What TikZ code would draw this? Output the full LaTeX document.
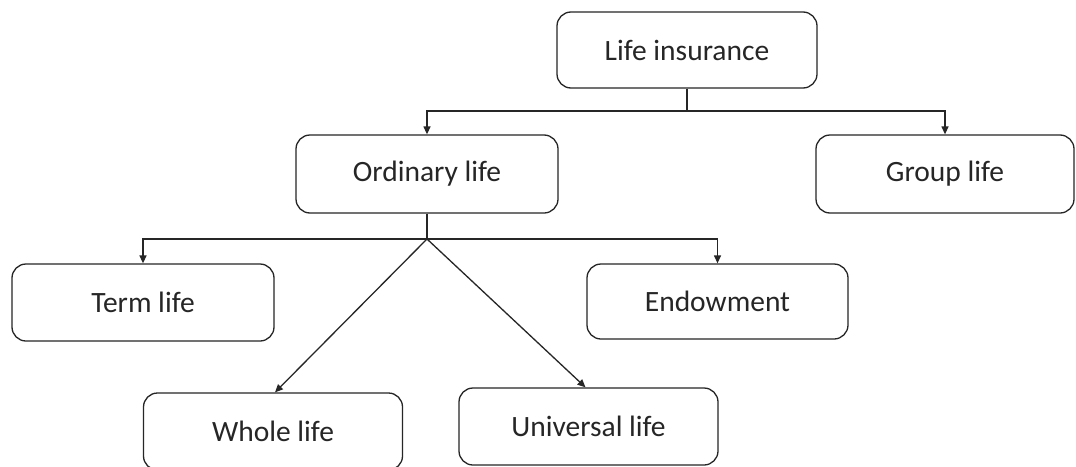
\documentclass[tikz,border=0pt]{standalone}
\usepackage{fontspec}
\setmainfont{Carlito}
\usetikzlibrary{arrows.meta}
\definecolor{ink}{HTML}{262626}
\begin{document}
\begin{tikzpicture}[x=1pt,y=-1pt,
  box/.style={draw=ink, line width=1.3pt, rounded corners=14pt, fill=white,
    minimum width=260pt, minimum height=76pt, text=ink, font=\fontsize{29.5}{34}\selectfont, inner sep=0pt},
  link/.style={draw=ink, line width=1.3pt},
  arrowlink/.style={link, -{Triangle[length=8pt,width=7pt]}}]
\useasboundingbox (0,0) rectangle (1076,466);
\fill[white] (0,0) rectangle (1076,466);

% tree boxes
\node[box] (life) at (687,50) {Life insurance};
\node[box, minimum width=262pt, minimum height=78pt] (ord) at (427,174) {Ordinary life};
\node[box, minimum width=258pt, minimum height=78pt] (group) at (945,174) {Group life};
\node[box, minimum width=262pt, minimum height=77pt] (term) at (143,302.5) {Term life};
\node[box, minimum width=261pt, minimum height=75pt] (endow) at (717.5,301.5) {Endowment};
\node[box, minimum width=259pt, minimum height=77pt] (whole) at (273,431.5) {Whole life};
\node[box, minimum width=259pt, minimum height=77pt] (univ) at (588.5,426.5) {Universal life};

% first level
\coordinate (top) at (687,111);
\draw[link] (life.south) -- (top);
\draw[arrowlink] (top) -| (ord.north);
\draw[arrowlink] (top) -| (group.north);

% second level
\coordinate (hub) at (427,239);
\draw[link] (ord.south) -- (hub);
\draw[arrowlink] (hub) -| (term.north);
\draw[arrowlink] (hub) -| (endow.north);
\draw[arrowlink] (hub) -- ([xshift=2pt]whole.north);
\draw[arrowlink] (hub) -- ([xshift=-3pt]univ.north);
\end{tikzpicture}
\end{document}
